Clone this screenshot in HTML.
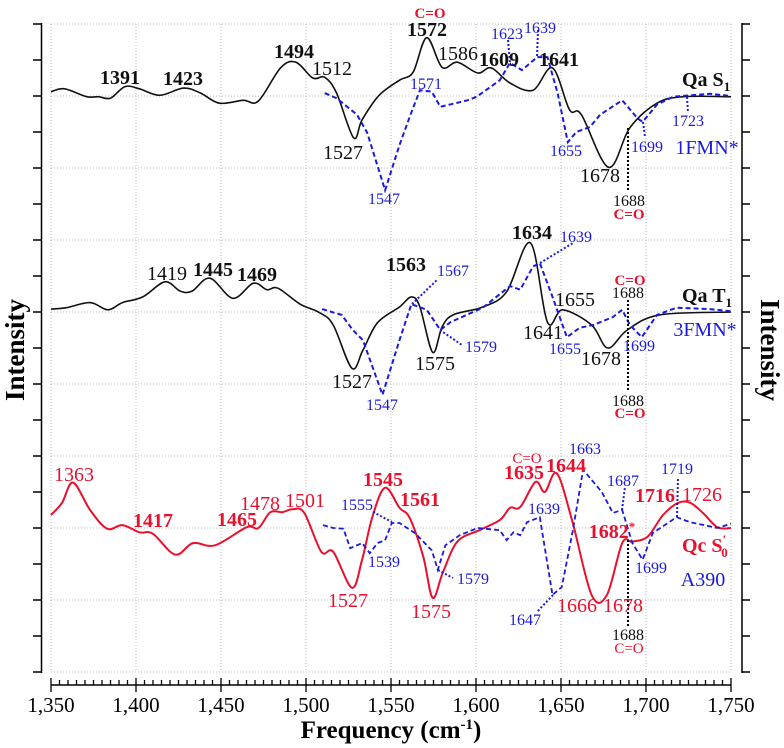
<!DOCTYPE html>
<html><head><meta charset="utf-8"><style>
html,body{margin:0;padding:0;background:#fff;}
svg{display:block;font-family:"Liberation Serif",serif;}
</style></head><body>
<svg id="chart" width="784" height="748" viewBox="0 0 784 748" xmlns="http://www.w3.org/2000/svg">
<g id="grid"></g>
<g id="axes"></g>
<g id="series"></g>
<g id="labels"></g>
</svg>
<script>
const xTicks = [1350,1400,1450,1500,1550,1600,1650,1700,1750];
const xTickLabels = ["1,350","1,400","1,450","1,500","1,550","1,600","1,650","1,700","1,750"];
const s1BlackF = [1350,1358,1371,1378,1385,1393.5,1402,1414,1428,1438,1449,1463,1472,1485,1494,1504,1511,1518,1528,1533,1543,1555,1563,1571,1580,1589,1601,1609,1620,1633.5,1645,1655,1662,1678,1690.5,1706.5,1722,1750];
const s1BlackV = [8.06,8.10,7.99,7.99,7.97,8.13,8.10,8.01,8.11,8.04,7.90,7.94,7.93,8.39,8.47,8.25,8.26,8.04,7.42,7.67,8.01,8.22,8.33,8.81,8.40,8.47,8.32,8.39,8.18,8.08,8.39,7.81,7.74,7.01,7.56,7.90,7.99,7.99];
const s1BlueF = [1511,1518,1530,1536,1546.5,1555,1561,1567,1574,1579,1595,1600.5,1614,1620,1627,1636,1642,1648,1654,1659,1667,1673,1686,1695,1698,1706.5,1716,1737.5,1750];
const s1BlueV = [8.04,7.97,7.74,7.49,6.69,7.32,7.71,8.08,8.06,7.85,7.94,7.99,8.22,8.46,8.36,8.54,8.54,8.04,7.36,7.50,7.57,7.74,7.94,7.69,7.64,7.88,7.99,8.03,8.0];
const t1BlackF = [1350,1359,1373,1383.5,1392,1404,1417,1426,1433,1443.5,1457,1469,1477,1483.5,1496.5,1508,1516,1527,1533.5,1542,1555,1562,1567,1574.5,1580,1586.5,1604,1618,1632,1642,1651,1668,1677.5,1689,1708,1750];
const t1BlackV = [5.04,5.06,5.13,5.03,5.13,5.21,5.42,5.29,5.29,5.47,5.19,5.40,5.31,5.33,5.11,4.99,4.82,4.22,4.47,4.85,5.07,5.21,5.07,4.44,4.79,4.96,5.07,5.28,5.96,4.86,5.03,4.82,4.50,4.75,4.96,5.0];
const t1BlueF = [1509.5,1521,1527.5,1533.5,1545,1555,1562,1571,1579,1585,1604,1620,1626,1633.5,1637.5,1645,1653.5,1661,1669,1680.5,1686,1690.5,1697.5,1706.5,1718,1737.5,1750];
const t1BlueV = [5.04,4.96,4.75,4.61,3.85,4.61,5.11,5.03,4.75,4.86,5.06,5.36,5.31,5.63,5.68,5.21,4.65,4.78,4.82,4.93,5.03,4.82,4.65,4.96,5.06,5.04,5.01];
const s0RedF = [1350,1356.5,1363,1373,1383,1392,1402,1410,1423,1433.5,1446.5,1465,1472,1479,1486,1492,1499,1509,1516,1527,1533,1539,1546.5,1555,1561,1569,1574.5,1580.5,1589,1602,1614,1620,1626,1635,1640.5,1647.5,1656.5,1668,1677,1686,1692,1701,1710,1719,1726,1733.5,1742,1750];
const s0RedV = [2.18,2.35,2.63,2.25,1.99,2.04,1.94,1.92,1.63,1.79,1.76,2.01,2.0,2.22,2.22,2.26,2.21,1.67,1.67,1.17,1.56,2.15,2.56,2.28,2.14,1.60,1.03,1.38,1.81,1.97,2.11,2.28,2.29,2.64,2.50,2.76,2.11,1.07,1.07,1.79,1.81,1.88,2.18,2.35,2.35,2.21,2.01,2.0];
const s0BlueF = [1510,1516,1522,1526,1533,1537.5,1542,1546.5,1550.5,1555,1564,1574,1577.5,1582,1590.5,1601,1614,1618,1622,1626,1630,1637.5,1645,1650.5,1657,1663,1674,1680.5,1686,1692,1698,1704,1718,1726,1742,1750];
const s0BlueV = [2.04,2.0,1.99,1.72,1.79,1.65,1.79,1.83,2.07,2.07,1.93,1.69,1.42,1.76,1.90,2.0,1.97,1.83,1.94,1.90,2.08,2.15,1.07,1.18,1.97,2.81,2.50,2.21,2.25,1.79,1.56,1.93,2.15,2.08,2.0,2.06];

const NS="http://www.w3.org/2000/svg";
function X(f){return 51+(f-1350)*1.7;}
function Y(v){return 672-v*72;}
function mk(tag,attrs,parent){const e=document.createElementNS(NS,tag);for(const k in attrs)e.setAttribute(k,attrs[k]);parent.appendChild(e);return e;}
const grid=document.getElementById('grid'),axes=document.getElementById('axes'),series=document.getElementById('series'),labels=document.getElementById('labels');

for(let v=0;v<=9;v++){const g=mk('line',{x1:51,x2:731,y1:Y(v),y2:Y(v),stroke:'#bbb','stroke-width':1,'stroke-dasharray':'1,2'},grid);

}
xTicks.forEach(f=>{const g=mk('line',{x1:X(f),x2:X(f),y1:24,y2:672,stroke:'#bbb','stroke-width':1,'stroke-dasharray':'1,2'},grid);

});

const la=mk('line',{x1:41.5,x2:41.5,y1:23,y2:673,stroke:'#000','stroke-width':1.5},axes);


const ra=mk('line',{x1:742,x2:742,y1:23,y2:673,stroke:'#000','stroke-width':1.5},axes);


for(let i=0;i<=18;i++){const y=24+i*36;
 const t1=mk('line',{x1:33,x2:41.5,y1:y,y2:y,stroke:'#000','stroke-width':1.5},axes);
 
 
 const t2=mk('line',{x1:742,x2:750,y1:y,y2:y,stroke:'#000','stroke-width':1.5},axes);
 
 }
const xa=mk('line',{x1:X(1350),x2:X(1750),y1:685,y2:685,stroke:'#000','stroke-width':1.5},axes);


for(let f=1350;f<=1750;f+=5){const major=(f%50===0);
 const t=mk('line',{x1:X(f),x2:X(f),y1:major?678:680,y2:major?692:685,stroke:'#000','stroke-width':1.3},axes);
 
 }
xTicks.forEach((f,i)=>{const t=mk('text',{x:X(f),y:712,'text-anchor':'middle','font-size':21,fill:'#000'},axes);t.textContent=xTickLabels[i];
 
 });
const xt=mk('text',{x:391,y:738,'text-anchor':'middle','font-size':25,'font-weight':'bold',fill:'#000'},axes);
xt.innerHTML='Frequency (cm<tspan dy="-9" font-size="15">-1</tspan><tspan dy="9">)</tspan>';


const yl=mk('text',{x:0,y:0,'text-anchor':'middle','font-size':27,'font-weight':'bold',fill:'#000',transform:'translate(24,350) rotate(-90)'},axes);yl.textContent='Intensity';


const yr=mk('text',{x:0,y:0,'text-anchor':'middle','font-size':27,'font-weight':'bold',fill:'#000',transform:'translate(761,350) rotate(90)'},axes);yr.textContent='Intensity';



function smooth(F,V){const p=F.map((f,i)=>[X(f),Y(V[i])]);let d='M'+p[0][0]+','+p[0][1];
 for(let i=0;i<p.length-1;i++){const p0=p[i-1]||p[i],p1=p[i],p2=p[i+1],p3=p[i+2]||p2;
  const c1=[p1[0]+(p2[0]-p0[0])/6,p1[1]+(p2[1]-p0[1])/6],c2=[p2[0]-(p3[0]-p1[0])/6,p2[1]-(p3[1]-p1[1])/6];
  d+=' C'+c1[0].toFixed(1)+','+c1[1].toFixed(1)+' '+c2[0].toFixed(1)+','+c2[1].toFixed(1)+' '+p2[0].toFixed(1)+','+p2[1].toFixed(1);}
 return d;}
function straight(F,V){return F.map((f,i)=>(i?'L':'M')+X(f).toFixed(1)+','+Y(V[i]).toFixed(1)).join(' ');}
const p1=mk('path',{d:smooth(s1BlackF,s1BlackV),fill:'none',stroke:'#111','stroke-width':1.6},series);


const p2=mk('path',{d:straight(s1BlueF,s1BlueV),fill:'none',stroke:'#1a1adc','stroke-width':2,'stroke-dasharray':'5,3'},series);


const p3=mk('path',{d:smooth(t1BlackF,t1BlackV),fill:'none',stroke:'#111','stroke-width':1.6},series);


const p4=mk('path',{d:straight(t1BlueF,t1BlueV),fill:'none',stroke:'#1a1adc','stroke-width':2,'stroke-dasharray':'5,3'},series);


const p5=mk('path',{d:smooth(s0RedF,s0RedV),fill:'none',stroke:'#e8112d','stroke-width':2},series);


const p6=mk('path',{d:straight(s0BlueF,s0BlueV),fill:'none',stroke:'#1a1adc','stroke-width':1.8,'stroke-dasharray':'5,3'},series);



const leaders=[[508,40,510,63,'#1a1adc'],[538,30,537,57,'#1a1adc'],[643,122,645,137,'#1a1adc'],[687,97,688,113,'#1a1adc'],
[412,304,437,280,'#1a1adc'],[440,330,462,345,'#1a1adc'],[540,263,573,243,'#1a1adc'],
[373,512,392,522,'#1a1adc'],[438,570,453,578,'#1a1adc'],[553,595,537,612,'#1a1adc'],[622,510,625,487,'#1a1adc'],[677,517,678,477,'#1a1adc'],
[628,128,628,192,'#000'],[628,300,628,390,'#000'],[628,540,628,628,'#000']];
leaders.forEach(l=>{const e=mk('line',{x1:l[0],y1:l[1],x2:l[2],y2:l[3],stroke:l[4],'stroke-width':2,'stroke-dasharray':'2,2'},labels);

});

const K='#111',B='#1a1adc',R='#e8112d';
const ann=[
['C=O',430,18,15,'bold',R],['1572',427,36,20,'bold',K],['1494',294,58,20,'bold',K],['1512',332,75,20,'normal',K],
['1391',120,84,20,'bold',K],['1423',183,85,20,'bold',K],['1527',343,159,20,'normal',K],['1547',384,204,16,'normal',B],
['1586',458,60,20,'normal',K],['1609',499,66,20,'bold',K],['1641',559,66,20,'bold',K],['1623',507,39,16,'normal',B],
['1639',540,33,16,'normal',B],['1571',426,89,16,'normal',B],['1655',566,156,16,'normal',B],['1678',600,182,20,'normal',K],
['1699',647,152,16,'normal',B],['1723',688,126,16,'normal',B],['1FMN*',707,154,20,'normal',B],['1688',629,206,16,'normal',K],['C=O',629,219,15,'bold',R],
['1419',167,280,20,'normal',K],['1445',213,276,20,'bold',K],['1469',257,281,20,'bold',K],['1563',406,271,20,'bold',K],
['1527',352,388,20,'normal',K],['1547',382,410,16,'normal',B],['1634',532,239,20,'bold',K],['1639',576,242,16,'normal',B],
['1567',453,276,16,'normal',B],['1575',435,370,20,'normal',K],['1579',481,352,16,'normal',B],['C=O',630,285,15,'bold',R],
['1688',628,298,16,'normal',K],['1655',575,306,20,'normal',K],['1641',543,339,20,'normal',K],['3FMN*',705,336,20,'normal',B],
['1655',565,354,16,'normal',B],['1678',601,365,20,'normal',K],['1699',639,351,16,'normal',B],['1688',628,406,16,'normal',K],['C=O',630,418,15,'bold',R],
['1363',74,481,20,'normal',R],['1417',153,527,20,'bold',R],['1465',237,526,20,'bold',R],['1478',260,510,20,'normal',R],
['1501',305,507,20,'normal',R],['1555',357,510,16,'normal',B],['1539',384,567,16,'normal',B],['1527',348,607,20,'normal',R],
['1545',383,486,20,'bold',R],['1561',420,506,20,'bold',R],['1575',431,618,20,'normal',R],['1579',473,584,16,'normal',B],
['1647',525,625,16,'normal',B],['1639',544,514,16,'normal',B],['C=O',527,463,15,'normal',R],['1635',524,479,20,'bold',R],
['1644',566,472,20,'bold',R],['1663',585,454,16,'normal',B],['1687',623,486,16,'normal',B],['1719',677,474,16,'normal',B],
['1716',655,502,20,'bold',R],['1726',702,501,20,'normal',R],['1666',577,612,20,'normal',R],['1678',623,612,20,'normal',R],
['1699',651,573,16,'normal',B],['A390',703,586,20,'normal',B],['1688',628,640,16,'normal',K],['C=O',629,653,15,'normal',R]];
ann.forEach(a=>{const t=mk('text',{x:a[1],y:a[2],'text-anchor':'middle','font-size':a[3],'font-weight':a[4],fill:a[5]},labels);t.textContent=a[0];

});
const f1=mk('text',{x:612,y:538,'text-anchor':'middle','font-size':20,'font-weight':'bold',fill:R},labels);
f1.innerHTML='1682<tspan dy="-7" font-size="13">*</tspan>';


const n1=mk('text',{x:682,y:86,'font-size':20,'font-weight':'bold',fill:K},labels);
n1.innerHTML='Qa S<tspan dy="5" font-size="13">1</tspan>';


const n2=mk('text',{x:682,y:302,'font-size':20,'font-weight':'bold',fill:K},labels);
n2.innerHTML='Qa T<tspan dy="5" font-size="13">1</tspan>';


const n3=mk('text',{x:682,y:552,'font-size':20,'font-weight':'bold',fill:R},labels);
n3.innerHTML='Qc S<tspan dy="-8" font-size="13">\u2032</tspan><tspan dx="-5" dy="13" font-size="13">0</tspan>';


</script>
</body></html>
